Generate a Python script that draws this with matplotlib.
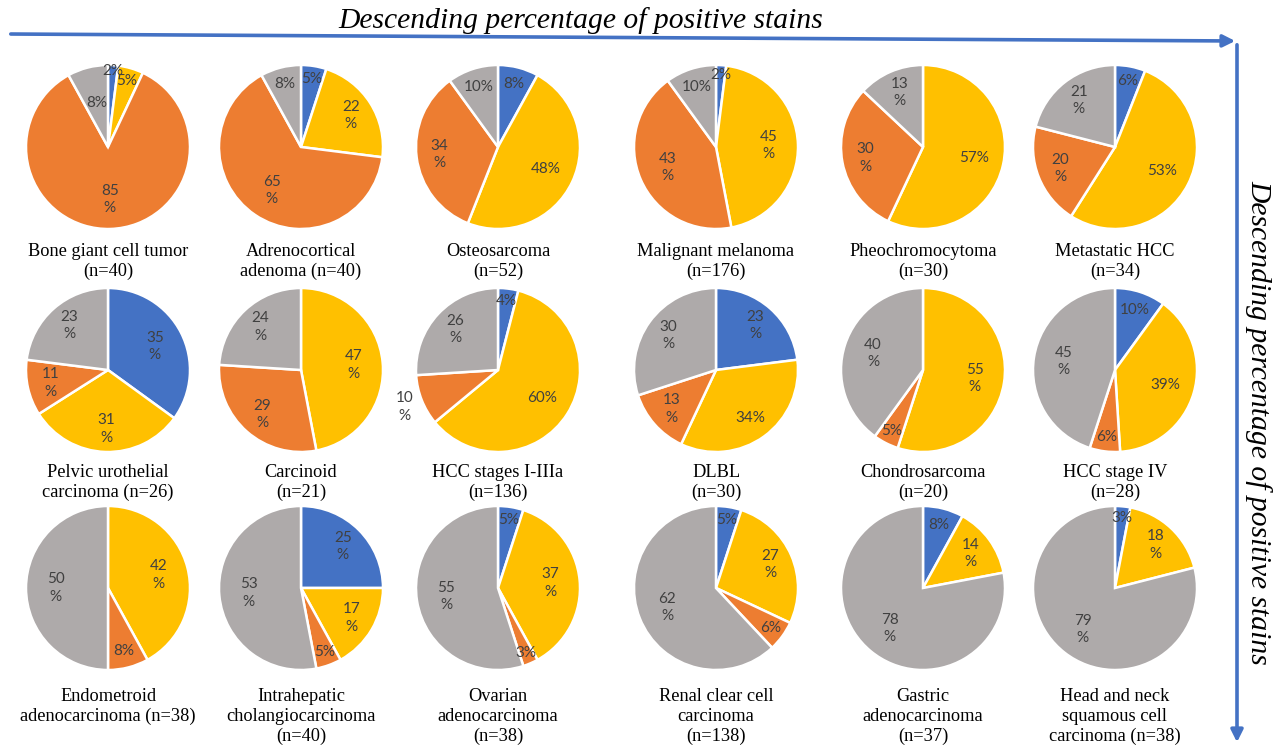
import numpy as np
import matplotlib
matplotlib.use("Agg")
import matplotlib.pyplot as plt

# data: blue, yellow, orange, gray shares (%) for each tumour type
names = ["Bone giant cell tumor\n(n=40)", "Adrenocortical\nadenoma (n=40)", "Osteosarcoma\n(n=52)",
         "Malignant melanoma\n(n=176)", "Pheochromocytoma\n(n=30)", "Metastatic HCC\n(n=34)",
         "Pelvic urothelial\ncarcinoma (n=26)", "Carcinoid\n(n=21)", "HCC stages I-IIIa\n(n=136)",
         "DLBL\n(n=30)", "Chondrosarcoma\n(n=20)", "HCC stage IV\n(n=28)",
         "Endometroid\nadenocarcinoma (n=38)", "Intrahepatic\ncholangiocarcinoma\n(n=40)",
         "Ovarian\nadenocarcinoma\n(n=38)", "Renal clear cell\ncarcinoma\n(n=138)",
         "Gastric\nadenocarcinoma\n(n=37)", "Head and neck\nsquamous cell\ncarcinoma (n=38)"]
blue = [2, 5, 8, 2, 0, 6, 35, 0, 4, 23, 0, 10, 0, 25, 5, 5, 8, 3]
yellow = [5, 22, 48, 45, 57, 53, 31, 47, 60, 34, 55, 39, 42, 17, 37, 27, 14, 18]
orange = [85, 65, 34, 43, 30, 20, 11, 29, 10, 13, 5, 6, 8, 5, 3, 6, 0, 0]
gray = [8, 8, 10, 10, 13, 21, 23, 24, 26, 30, 40, 45, 50, 53, 55, 62, 78, 79]

colors = ["#4472C4", "#FFC000", "#ED7D31", "#AEAAAA"]
W, H = 1288, 752
col_x = [108, 301, 498, 716, 923, 1115]
row_y = [147, 370, 588]
name_y = [243, 464, 688]
R = 82

# labels kept on one line in the original
one_line = {(2, 3), (2, 1), (3, 3), (4, 1), (5, 1), (8, 1), (9, 1), (11, 0), (11, 1)}
# special label distances (fraction of radius)
dist_fix = {(0, 0): 0.93, (0, 3): 0.55, (8, 2): 1.23}

fig = plt.figure(figsize=(W / 100, H / 100), dpi=100)
ax = fig.add_axes([0, 0, 1, 1])

for i in range(18):
    cx = col_x[i % 6]
    cy = H - row_y[i // 6]
    vals = [blue[i], yellow[i], orange[i], gray[i]]
    keep = [j for j in range(4) if vals[j] > 0]
    ax.pie([vals[j] for j in keep], colors=[colors[j] for j in keep], startangle=90,
           counterclock=False, center=(cx, cy), radius=R, frame=True,
           wedgeprops=dict(edgecolor="white", linewidth=1.8))
    total = sum(vals)
    cum = 0
    for j in keep:
        p = vals[j]
        theta = np.deg2rad(90 - 360 * (cum + p / 2) / total)
        cum += p
        if (i, j) in dist_fix:
            d = dist_fix[(i, j)]
        elif p <= 10:
            d = 0.9 - 0.013 * p
        elif p < 35:
            d = 0.72
        else:
            d = 0.64
        if p < 10 or (i, j) in one_line:
            s = f"{p}%"
        else:
            s = f"{p}\n%"
        ax.text(cx + d * R * np.cos(theta), cy + d * R * np.sin(theta), s,
                ha="center", va="center", fontsize=11, color="#404040",
                family="Lato", linespacing=1.3)
    ax.text(cx, H - name_y[i // 6], names[i], ha="center", va="top", fontsize=13.2,
            family="Liberation Serif", linespacing=1.22)

# arrows and axis titles
ax.annotate("", xy=(1238, H - 41), xytext=(8, H - 34),
            arrowprops=dict(arrowstyle="-|>", color="#4472C4", lw=2.6, mutation_scale=18))
ax.annotate("", xy=(1237, H - 745), xytext=(1237, H - 42),
            arrowprops=dict(arrowstyle="-|>", color="#4472C4", lw=2.6, mutation_scale=18))
ax.text(581, H - 21, "Descending percentage of positive stains", ha="center", va="center",
        fontsize=21.3, style="italic", family="Liberation Serif")
ax.text(1259, H - 422, "Descending percentage of positive stains", ha="center", va="center",
        fontsize=21.3, style="italic", family="Liberation Serif", rotation=-90)

ax.set_xlim(0, W)
ax.set_ylim(0, H)
ax.set_aspect("equal")
ax.axis("off")
fig.savefig("out.png", dpi=100, facecolor="white")
